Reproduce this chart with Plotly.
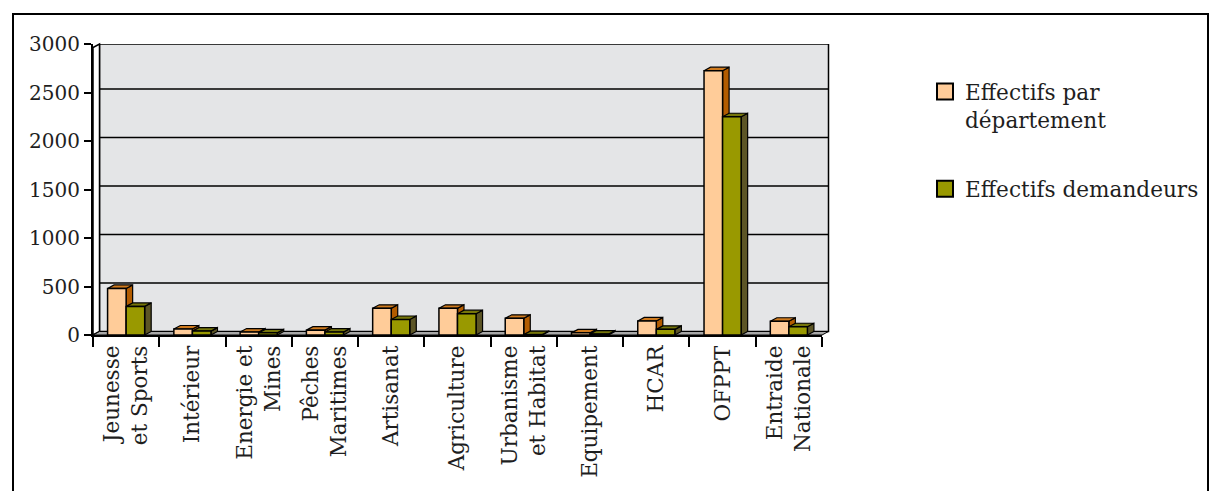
import plotly.graph_objects as go

# ---------------- data ----------------
categories = ["Jeunesse<br>et Sports", "Intérieur", "Energie et<br>Mines", "Pêches<br>Maritimes",
              "Artisanat", "Agriculture", "Urbanisme<br>et Habitat", "Equipement", "HCAR",
              "OFPPT", "Entraide<br>Nationale"]
effectifs_departement = [480, 62, 30, 50, 275, 275, 172, 22, 145, 2725, 142]
effectifs_demandeurs = [295, 40, 22, 30, 160, 220, 4, 10, 58, 2250, 85]
series_names = ["Effectifs par<br>département", "Effectifs demandeurs"]
y_ticks = [0, 500, 1000, 1500, 2000, 2500, 3000]

# ---------------- style / geometry ----------------
FIG_W, FIG_H = 1211, 491
L, R, T, B = 93, 822, 44, 335          # plot area (front plane) in pixels
W, H = R - L, B - T
YMAX = 3000
FONT = "DejaVu Serif"
TXT = "#1e1e1e"
front_cols = ["#FFCC99", "#999900"]
top_cols = ["#CF7A1E", "#76760A"]
side_cols = ["#B35C00", "#5C5526"]
BAR_W = 0.28
DX_PX, DY_PX = 6.5, 3.5
n = len(categories)
dx_u = DX_PX * n / W
dy_u = DY_PX * YMAX / H


def px_x(p):
    return (p - L) / W


def px_y(p):
    return (B - p) / H


fig = go.Figure()
series = [effectifs_departement, effectifs_demandeurs]
for s, vals in enumerate(series):
    fig.add_trace(go.Bar(
        x=categories, y=vals, name=series_names[s], showlegend=False,
        marker=dict(color=front_cols[s], line=dict(color="black", width=1.5)),
        offsetgroup=str(s)))
    fig.add_trace(go.Scatter(
        x=[None], y=[None], mode="markers", name=series_names[s], legendgroup=str(s),
        marker=dict(symbol="square", size=16, color=front_cols[s],
                    line=dict(color="black", width=2))))

shapes = []
# outer frame
shapes.append(dict(type="rect", xref="paper", yref="paper",
                   x0=px_x(13), x1=px_x(1208), y0=px_y(14), y1=px_y(520),
                   line=dict(color="black", width=2), fillcolor="rgba(0,0,0,0)", layer="below"))
# back wall
shapes.append(dict(type="rect", xref="paper", yref="y",
                   x0=px_x(L + DX_PX), x1=px_x(R + DX_PX), y0=dy_u, y1=YMAX,
                   fillcolor="#E4E5E7", line=dict(color="black", width=1.5), layer="below"))
# gridlines on back wall
for v in y_ticks[1:-1]:
    shapes.append(dict(type="line", xref="paper", yref="y",
                       x0=px_x(L + DX_PX), x1=px_x(R + DX_PX), y0=v + dy_u, y1=v + dy_u,
                       line=dict(color="black", width=1.5), layer="below"))


def ppath(pts):
    return "M " + " L ".join(f"{px_x(a)},{px_y(b)}" for a, b in pts) + " Z"


# left wall
shapes.append(dict(type="path", xref="paper", yref="paper",
                   path=ppath([(L, B), (L, T + DY_PX), (L + DX_PX, T), (L + DX_PX, B - DY_PX)]),
                   fillcolor="white", line=dict(color="black", width=1.5), layer="below"))
# floor
shapes.append(dict(type="path", xref="paper", yref="paper",
                   path=ppath([(L, B), (R, B), (R + DX_PX, B - DY_PX), (L + DX_PX, B - DY_PX)]),
                   fillcolor="#A8A8A8", line=dict(color="black", width=1), layer="below"))

# 3D faces of bars (top and right side), derived from data
for s, vals in enumerate(series):
    for i, v in enumerate(vals):
        x0 = i - BAR_W + s * BAR_W
        x1 = x0 + BAR_W
        side = (f"M {x1},0 L {x1},{v} L {x1 + dx_u},{v + dy_u} L {x1 + dx_u},{dy_u} Z")
        top = (f"M {x0},{v} L {x1},{v} L {x1 + dx_u},{v + dy_u} L {x0 + dx_u},{v + dy_u} Z")
        shapes.append(dict(type="path", xref="x", yref="y", path=side,
                           fillcolor=side_cols[s], line=dict(color="black", width=1.2),
                           layer="between"))
        shapes.append(dict(type="path", xref="x", yref="y", path=top,
                           fillcolor=top_cols[s], line=dict(color="black", width=1.2),
                           layer="between"))

fig.update_layout(
    width=FIG_W, height=FIG_H,
    margin=dict(l=L, r=FIG_W - R, t=T, b=FIG_H - B, pad=0),
    paper_bgcolor="white", plot_bgcolor="rgba(0,0,0,0)",
    barmode="group", bargap=1 - 2 * BAR_W, bargroupgap=0,
    font=dict(family=FONT, size=20, color=TXT),
    shapes=shapes,
    showlegend=True,
    legend=dict(xref="container", yref="container", x=925 / FIG_W, y=1 - 71 / FIG_H,
                xanchor="left", yanchor="top", valign="top",
                traceorder="grouped", tracegroupgap=38,
                font=dict(family=FONT, size=21.6, color=TXT), bgcolor="rgba(0,0,0,0)"),
    xaxis=dict(type="category", range=[-0.5, n - 0.5], tickson="boundaries",
               ticks="outside", ticklen=10, tickwidth=1.5, tickcolor="black",
               showline=True, linecolor="black", linewidth=2, showgrid=False,
               tickangle=-90, tickfont=dict(family=FONT, size=21.5, color=TXT)),
    yaxis=dict(range=[0, YMAX], tickvals=y_ticks, ticks="outside", ticklen=7,
               tickwidth=1.5, tickcolor="black", showline=True, linecolor="black",
               linewidth=2, showgrid=False, zeroline=False,
               tickfont=dict(family=FONT, size=20, color=TXT)),
)

fig.write_html("out.html")
